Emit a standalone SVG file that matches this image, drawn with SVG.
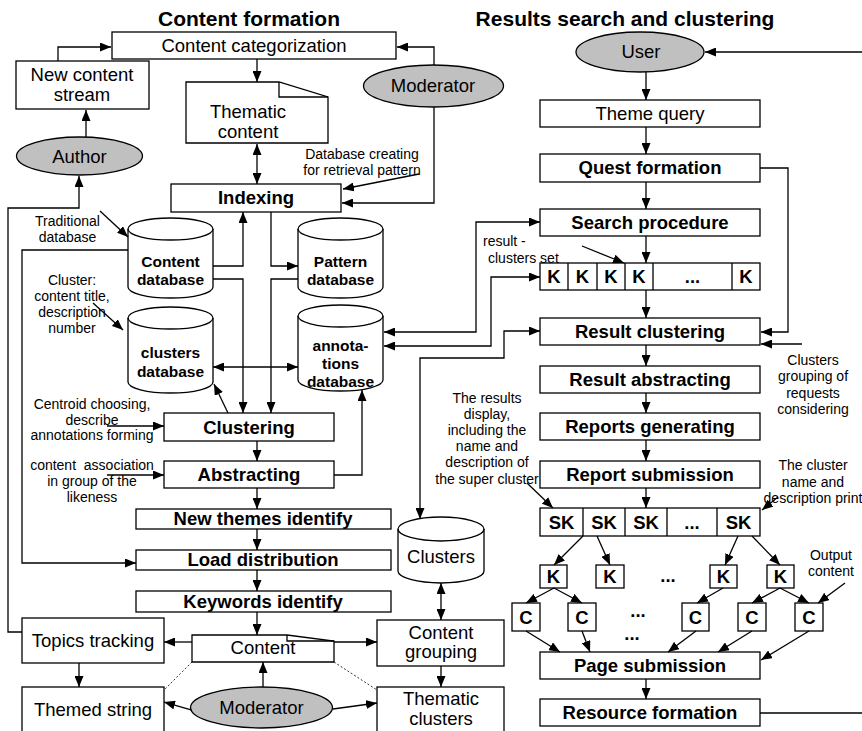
<svg xmlns="http://www.w3.org/2000/svg" width="862" height="731" viewBox="0 0 862 731">
<style>
.box{fill:#fff;stroke:#000;stroke-width:1.3}
.gray{fill:#c0c0c0;stroke:#000;stroke-width:1.3}
.cyl{fill:#fff;stroke:#000;stroke-width:1.3}
.arc{fill:none;stroke:#000;stroke-width:1.3}
text{font-family:"Liberation Sans",Arial,sans-serif;font-size:18.5px;text-anchor:middle;fill:#000}
.b{font-weight:bold}
.s{font-size:14px}
.c{font-size:15.5px;font-weight:bold}
.ttl{font-size:21px;font-weight:bold}
.ln{fill:none;stroke:#000;stroke-width:1.3;marker-end:url(#a)}
.dbl{marker-start:url(#a)}
.pl{fill:none;stroke:#000;stroke-width:1.3}
.dot{fill:none;stroke:#000;stroke-width:0.8;stroke-dasharray:2,2}
</style>
<defs>
<marker id="a" viewBox="0 0 11 9" refX="11" refY="4.5" markerWidth="11" markerHeight="9" markerUnits="userSpaceOnUse" orient="auto-start-reverse"><path d="M0,0 L11,4.5 L0,9 z" fill="#000"/></marker>
</defs>

<g id="titles">
<text class="ttl" x="249" y="26">Content formation</text>
<text class="ttl" x="625" y="26">Results search and clustering</text>
</g>

<g id="content-categorization"><rect class="box" x="112" y="32" width="284" height="27"/><text x="254" y="52">Content categorization</text></g>
<g id="new-content-stream"><rect class="box" x="16" y="61" width="133" height="48"/><text x="82" y="81">New content</text><text x="82" y="101">stream</text></g>
<g id="author"><ellipse class="gray" cx="79.5" cy="156" rx="63" ry="19"/><text x="79.5" y="163">Author</text></g>
<g id="thematic-content"><path class="box" d="M186,82 H279 L328,97 V143 H186 Z"/><path class="arc" d="M279,82 V97 H328"/><text x="248" y="118">Thematic</text><text x="248" y="138">content</text></g>
<g id="moderator-top"><ellipse class="gray" cx="433.5" cy="86" rx="70" ry="21"/><text x="433" y="92">Moderator</text></g>
<g id="indexing"><rect class="box" x="171" y="184" width="170" height="28"/><text class="b" x="256" y="204">Indexing</text></g>

<g id="content-database"><path class="cyl" d="M128,229 A42.5,11 0 0 1 213,229 V287 A42.5,11 0 0 1 128,287 Z"/><path class="arc" d="M128,229 A42.5,11 0 0 0 213,229"/><text class="c" x="170.5" y="267">Content</text><text class="c" x="170.5" y="285">database</text></g>
<g id="pattern-database"><path class="cyl" d="M298,229 A42.5,11 0 0 1 383,229 V287 A42.5,11 0 0 1 298,287 Z"/><path class="arc" d="M298,229 A42.5,11 0 0 0 383,229"/><text class="c" x="340.5" y="267">Pattern</text><text class="c" x="340.5" y="285">database</text></g>
<g id="clusters-database"><path class="cyl" d="M128,318 A42.5,11 0 0 1 213,318 V382 A42.5,11 0 0 1 128,382 Z"/><path class="arc" d="M128,318 A42.5,11 0 0 0 213,318"/><text class="c" x="170.5" y="358">clusters</text><text class="c" x="170.5" y="377">database</text></g>
<g id="annotations-database"><path class="cyl" d="M298,316 A42.5,11 0 0 1 383,316 V380 A42.5,11 0 0 1 298,380 Z"/><path class="arc" d="M298,316 A42.5,11 0 0 0 383,316"/><text class="c" x="340.5" y="351">annota-</text><text class="c" x="340.5" y="369">tions</text><text class="c" x="340.5" y="387">database</text></g>

<g id="clustering"><rect class="box" x="164" y="413" width="170" height="28"/><text class="b" x="249" y="434">Clustering</text></g>
<g id="abstracting"><rect class="box" x="164" y="461" width="170" height="27"/><text class="b" x="249" y="481">Abstracting</text></g>
<g id="new-themes"><rect class="box" x="136" y="509" width="255" height="20"/><text class="b" x="263" y="525">New themes identify</text></g>
<g id="load-distribution"><rect class="box" x="136" y="550" width="255" height="20"/><text class="b" x="263" y="566">Load distribution</text></g>
<g id="keywords-identify"><rect class="box" x="136" y="591" width="255" height="21"/><text class="b" x="263" y="608">Keywords identify</text></g>
<g id="topics-tracking"><rect class="box" x="22" y="618" width="142" height="45"/><text x="93" y="647">Topics tracking</text></g>
<g id="content"><path class="box" d="M192,635 H287 L334,641 V662 H192 Z"/><path class="arc" d="M287,635 V641 H334"/><text x="263" y="654">Content</text></g>
<g id="clusters"><path class="cyl" d="M398,529 A43,12 0 0 1 484,529 V571 A43,12 0 0 1 398,571 Z"/><path class="arc" d="M398,529 A43,12 0 0 0 484,529"/><text x="441" y="563">Clusters</text></g>
<g id="content-grouping"><rect class="box" x="377" y="620" width="127" height="46"/><text x="441" y="639">Content</text><text x="441" y="658">grouping</text></g>
<g id="themed-string"><rect class="box" x="22" y="687" width="142" height="60"/><text x="93" y="716">Themed string</text></g>
<g id="moderator-bottom"><ellipse class="gray" cx="261.5" cy="707.5" rx="71" ry="20.5"/><text x="261.5" y="714">Moderator</text></g>
<g id="thematic-clusters"><rect class="box" x="377" y="687" width="127" height="60"/><text x="441" y="705">Thematic</text><text x="441" y="725">clusters</text></g>

<g id="left-notes">
<text class="s" x="67.5" y="226">Traditional</text><text class="s" x="67.5" y="242">database</text>
<text class="s" x="72" y="285">Cluster:</text><text class="s" x="72" y="301">content title,</text><text class="s" x="72" y="317">description</text><text class="s" x="72" y="333">number</text>
<text class="s" x="92" y="409">Centroid choosing,</text><text class="s" x="92" y="425">describe</text><text class="s" x="92" y="440">annotations forming</text>
<text class="s" x="92" y="470" xml:space="preserve">content  association</text><text class="s" x="92" y="486">in group of the</text><text class="s" x="92" y="502">likeness</text>
<text class="s" x="362" y="159">Database creating</text><text class="s" x="362" y="175">for retrieval pattern</text>
</g>

<g id="user"><ellipse class="gray" cx="640" cy="52" rx="64" ry="20"/><text x="641" y="58">User</text></g>
<g id="theme-query"><rect class="box" x="540" y="100" width="220" height="27"/><text x="650" y="120">Theme query</text></g>
<g id="quest-formation"><rect class="box" x="540" y="154" width="220" height="28"/><text class="b" x="650" y="174">Quest formation</text></g>
<g id="search-procedure"><rect class="box" x="540" y="209" width="220" height="27"/><text class="b" x="650" y="229">Search procedure</text></g>
<g id="k-row"><rect class="box" x="540" y="263" width="220" height="27"/>
<path class="pl" d="M568,263 V290 M597,263 V290 M625,263 V290 M653,263 V290 M732,263 V290"/>
<text class="b" x="554" y="283">K</text><text class="b" x="582.5" y="283">K</text><text class="b" x="611" y="283">K</text><text class="b" x="639" y="283">K</text><text class="b" x="692.5" y="283">...</text><text class="b" x="746" y="283">K</text></g>
<g id="result-clustering"><rect class="box" x="540" y="318" width="220" height="27"/><text class="b" x="650" y="338">Result clustering</text></g>
<g id="result-abstracting"><rect class="box" x="540" y="366" width="220" height="27"/><text class="b" x="650" y="386">Result abstracting</text></g>
<g id="reports-generating"><rect class="box" x="540" y="413" width="220" height="27"/><text class="b" x="650" y="433">Reports generating</text></g>
<g id="report-submission"><rect class="box" x="540" y="461" width="220" height="27"/><text class="b" x="650" y="481">Report submission</text></g>
<g id="sk-row"><rect class="box" x="540" y="508" width="220" height="28"/>
<path class="pl" d="M583,508 V536 M625,508 V536 M667,508 V536 M717,508 V536"/>
<text class="b" x="561.5" y="529">SK</text><text class="b" x="604" y="529">SK</text><text class="b" x="646" y="529">SK</text><text class="b" x="692" y="529">...</text><text class="b" x="738.5" y="529">SK</text></g>
<g id="k-boxes">
<rect class="box" x="540" y="565" width="27" height="23"/><text class="b" x="553.5" y="583">K</text>
<rect class="box" x="596" y="565" width="28" height="23"/><text class="b" x="610" y="583">K</text>
<text class="b" x="668" y="582">...</text>
<rect class="box" x="710" y="565" width="27" height="23"/><text class="b" x="723.5" y="583">K</text>
<rect class="box" x="767" y="565" width="27" height="23"/><text class="b" x="780.5" y="583">K</text>
</g>
<g id="c-boxes">
<rect class="box" x="512" y="603" width="28" height="28"/><text class="b" x="526" y="624">C</text>
<rect class="box" x="568" y="603" width="28" height="28"/><text class="b" x="582" y="624">C</text>
<text class="b" x="638" y="617">...</text><text class="b" x="632" y="640">...</text>
<rect class="box" x="682" y="603" width="27" height="28"/><text class="b" x="695.5" y="624">C</text>
<rect class="box" x="738" y="603" width="28" height="28"/><text class="b" x="752" y="624">C</text>
<rect class="box" x="795" y="603" width="28" height="28"/><text class="b" x="809" y="624">C</text>
</g>
<g id="page-submission"><rect class="box" x="540" y="652" width="220" height="27"/><text class="b" x="650" y="672">Page submission</text></g>
<g id="resource-formation"><rect class="box" x="540" y="699" width="220" height="27"/><text class="b" x="650" y="719">Resource formation</text></g>

<g id="right-notes">
<text class="s" x="483" y="246" style="text-anchor:start">result -</text><text class="s" x="488" y="263" style="text-anchor:start">clusters set</text>
<text class="s" x="813" y="365">Clusters</text><text class="s" x="813" y="381">grouping of</text><text class="s" x="813" y="398">requests</text><text class="s" x="813" y="414">considering</text>
<text class="s" x="487" y="403">The results</text><text class="s" x="487" y="419">display,</text><text class="s" x="487" y="435">including the</text><text class="s" x="487" y="451">name and</text><text class="s" x="487" y="467">description of</text><text class="s" x="487" y="484">the super cluster</text>
<text class="s" x="813" y="470">The cluster</text><text class="s" x="813" y="487">name and</text><text class="s" x="813" y="503">description print</text>
<text class="s" x="831" y="560">Output</text><text class="s" x="831" y="576">content</text>
</g>

<g id="connectors">
<path class="ln" d="M58,61 V47 H111"/>
<path class="ln" d="M86,137 V110"/>
<path class="ln" d="M434,65 V47 H397"/>
<path class="ln" d="M434,107 V203 H342"/>
<path class="ln" d="M419,174 L343,189"/>
<path class="ln" d="M257,59 V82"/>
<path class="ln dbl" d="M257,144 V184"/>
<path class="ln" d="M213,266 H243 V212"/>
<path class="ln" d="M271,212 V266 H298"/>
<path class="ln" d="M213,279 H243 V413"/>
<path class="ln" d="M298,279 H271 V413"/>
<path class="ln dbl" d="M213,367 H298"/>
<path class="ln" d="M228,413 L214,384"/>
<path class="ln" d="M257,441 V461"/>
<path class="ln" d="M257,488 V509"/>
<path class="ln" d="M334,475 H362 V390"/>
<path class="ln" d="M257,529 V550"/>
<path class="ln" d="M257,570 V591"/>
<path class="ln" d="M257,612 V635"/>
<path class="ln" d="M128,250 H22 V563 H136"/>
<path class="ln" d="M22,632 H8 V208 H79 V176"/>
<path class="ln" d="M192,642 H164"/>
<path class="ln" d="M334,642 H377"/>
<path class="ln dbl" d="M441,583 V620"/>
<path class="ln" d="M441,666 V687"/>
<path class="ln" d="M79,663 V687"/>
<path class="ln" d="M263,687 V662"/>
<path class="ln" d="M192,710 L164,702"/>
<path class="ln" d="M333,709 L377,703"/>
<path class="dot" d="M192,662 L164,690 M334,662 L377,690"/>
<path class="ln" d="M100,211 L128,237"/>
<path class="ln" d="M93,303 L123,330"/>
<path class="ln" d="M107,426 H164"/>
<path class="ln" d="M107,475 H164"/>

<path class="ln" d="M862,52 H705"/>
<path class="ln" d="M646,72 V100"/>
<path class="ln" d="M646,127 V154"/>
<path class="ln" d="M646,182 V209"/>
<path class="ln" d="M646,236 V263"/>
<path class="ln" d="M582,246 L624,263"/>
<path class="ln" d="M646,290 V318"/>
<path class="ln" d="M646,345 V366"/>
<path class="ln" d="M646,393 V413"/>
<path class="ln" d="M646,440 V461"/>
<path class="ln" d="M646,488 V508"/>
<path class="ln" d="M760,168 H788 V332 H761"/>
<path class="ln" d="M802,344 H761"/>
<path class="ln dbl" d="M384,332 H476 V222 H540"/>
<path class="ln dbl" d="M384,346 H491 V277 H540"/>
<path class="ln dbl" d="M420,519 V358 H504 V331 H540"/>
<path class="ln" d="M527,483 L553,508"/>
<path class="ln" d="M778,497 L762,510"/>
<path class="ln" d="M583,536 L554,565"/>
<path class="ln" d="M597,536 L610,565"/>
<path class="ln" d="M738,536 L725,565"/>
<path class="ln" d="M752,536 L780,565"/>
<path class="ln" d="M554,588 L526,603"/>
<path class="ln" d="M554,588 L582,603"/>
<path class="ln" d="M723,588 L697,603"/>
<path class="ln" d="M780,588 L752,603"/>
<path class="ln" d="M780,588 L809,603"/>
<path class="ln" d="M845,583 L818,603"/>
<path class="ln" d="M526,631 L560,652"/>
<path class="ln" d="M582,631 L590,652"/>
<path class="ln" d="M696,631 L668,652"/>
<path class="ln" d="M752,631 L718,652"/>
<path class="ln" d="M809,631 L761,660"/>
<path class="ln" d="M646,679 V699"/>
<path class="pl" d="M760,713 H862"/>
</g>
</svg>
